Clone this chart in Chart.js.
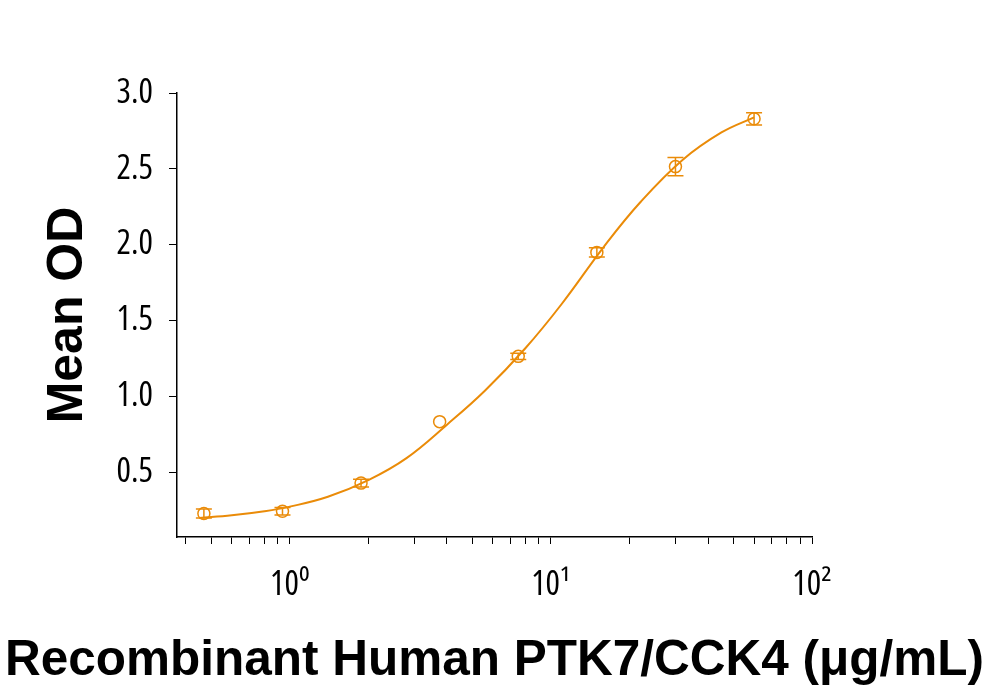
<!DOCTYPE html>
<html>
<head>
<meta charset="utf-8">
<script src="https://cdn.jsdelivr.net/npm/chart.js@4.4.1/dist/chart.umd.min.js"></script>
<style>
    html, body { margin: 0; padding: 0; background: #fff; }
    #grafica { width: 989px; height: 690px; }
</style>
</head>
<body>
<div id="grafica"><canvas id="myChart"></canvas></div>
<script>
// puntos medidos (ug/mL vs OD medio) y su error
var concentracion = [0.469, 0.938, 1.875, 3.75, 7.5, 15, 30, 60]
var od_medio = [0.23, 0.245, 0.43, 0.835, 1.265, 1.95, 2.515, 2.83]
var od_error = [0.03, 0.025, 0.025, 0, 0.02, 0.03, 0.06, 0.04]

// curva ajustada
var curva_x = [0.45, 0.6, 0.8, 1.0, 1.4, 2.0, 2.8, 4.0, 5.6, 8, 11, 16, 22, 32, 45, 60]
var curva_y = [0.20, 0.218, 0.245, 0.275, 0.34, 0.45, 0.595, 0.815, 1.04, 1.32, 1.61, 1.99, 2.28, 2.56, 2.74, 2.84]

var y_ticks = [0.5, 1.0, 1.5, 2.0, 2.5, 3.0]
var x_ticks = [0.4, 0.5, 0.6, 0.7, 0.8, 0.9, 1, 2, 3, 4, 5, 6, 7, 8, 9, 10, 20, 30, 40, 50, 60, 70, 80, 90, 100]
var x_etiquetas = { 1: '10\u2070', 10: '10\u00B9', 100: '10\u00B2' }
var titulo_x = 'Recombinant Human PTK7/CCK4 (\u03BCg/mL)'

var naranja = 'rgb(234,139,8)'
var fuente_ticks = "'Open Sans', sans-serif"
var fuente_titulo = "'Liberation Sans', Arial, sans-serif"

var barrasError = {
    id: 'barrasError',
    afterDatasetsDraw: function (chart) {
        var ctx = chart.ctx
        var ex = chart.scales.x
        var ey = chart.scales.y
        ctx.save()
        ctx.strokeStyle = naranja
        ctx.lineWidth = 1.5
        for (var i = 0; i < concentracion.length; i++) {
            if (!od_error[i]) continue
            var px = ex.getPixelForValue(concentracion[i])
            var arriba = ey.getPixelForValue(od_medio[i] + od_error[i])
            var abajo = ey.getPixelForValue(od_medio[i] - od_error[i])
            ctx.beginPath()
            ctx.moveTo(px, arriba); ctx.lineTo(px, abajo)
            ctx.moveTo(px - 8, arriba); ctx.lineTo(px + 8, arriba)
            ctx.moveTo(px - 8, abajo); ctx.lineTo(px + 8, abajo)
            ctx.stroke()
        }
        ctx.restore()
    }
}

// el titulo del eje x es mas ancho que el eje, se dibuja aparte
var tituloX = {
    id: 'tituloX',
    afterDraw: function (chart) {
        var ctx = chart.ctx
        ctx.save()
        ctx.fillStyle = '#000'
        ctx.font = "bold 49.5px " + fuente_titulo
        ctx.textAlign = 'center'
        ctx.textBaseline = 'alphabetic'
        ctx.fillText(titulo_x, chart.width / 2, 675)
        ctx.restore()
    }
}

var ctx = document.getElementById("myChart").getContext("2d")
new Chart(ctx, {
    type: "scatter",
    data: {
        datasets: [{
            label: 'ajuste',
            data: curva_x.map(function (x, i) { return { x: x, y: curva_y[i] } }),
            showLine: true,
            borderColor: naranja,
            borderWidth: 2,
            pointRadius: 0,
            tension: 0.4,
            fill: false
        }, {
            label: 'Mean OD',
            data: concentracion.map(function (x, i) { return { x: x, y: od_medio[i] } }),
            showLine: false,
            pointRadius: 6,
            pointBorderWidth: 1.5,
            pointBorderColor: naranja,
            pointBackgroundColor: 'rgba(0,0,0,0)'
        }]
    },
    plugins: [barrasError, tituloX],
    options: {
        responsive: true,
        maintainAspectRatio: false,
        animation: false,
        layout: { padding: { top: 93, right: 177, left: 0, bottom: 0 } },
        plugins: {
            legend: { display: false },
            tooltip: { enabled: false }
        },
        scales: {
            x: {
                type: 'logarithmic',
                min: 0.37,
                max: 100,
                afterBuildTicks: function (eje) {
                    eje.ticks = x_ticks.map(function (v) { return { value: v } })
                },
                afterFit: function (eje) {
                    eje.height = 153
                    eje.paddingLeft = 0
                    eje.paddingRight = 0
                },
                border: { color: '#000', width: 1.5 },
                grid: { drawOnChartArea: false, drawTicks: true, tickLength: 7, color: '#000', tickWidth: 1 },
                ticks: {
                    autoSkip: false,
                    maxRotation: 0,
                    padding: 21,
                    color: '#000',
                    font: { family: fuente_ticks, size: 34, weight: 'normal condensed' },
                    callback: function (v) { return x_etiquetas[v] || '' }
                }
            },
            y: {
                min: 0.075,
                max: 3.0,
                afterBuildTicks: function (eje) {
                    eje.ticks = y_ticks.map(function (v) { return { value: v } })
                },
                afterFit: function (eje) {
                    eje.width = 177
                    eje.paddingTop = 0
                    eje.paddingBottom = 0
                },
                border: { color: '#000', width: 1.5 },
                grid: { drawOnChartArea: false, drawTicks: true, tickLength: 8, color: '#000' },
                ticks: {
                    padding: 16,
                    color: '#000',
                    font: { family: fuente_ticks, size: 34, weight: 'normal condensed' },
                    callback: function (v) { return v.toFixed(1) }
                },
                title: {
                    display: true,
                    text: 'Mean OD',
                    color: '#000',
                    font: { family: fuente_titulo, size: 50, weight: 'bold', lineHeight: 1.2 },
                    padding: { top: 38, bottom: 0 }
                }
            }
        }
    }
})
</script>
</body>
</html>
